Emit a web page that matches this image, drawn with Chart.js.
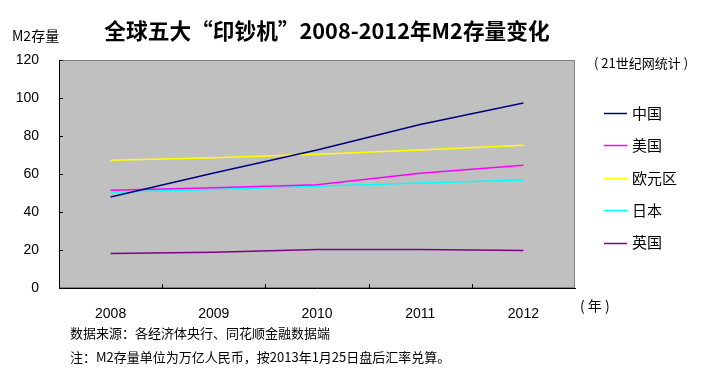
<!DOCTYPE html>
<html>
<head>
<meta charset="utf-8">
<script src="https://cdn.jsdelivr.net/npm/chart.js@4"></script>
<style>
  body { margin: 0; background: #fff; }
</style>
</head>
<body>
<canvas id="m2Chart" width="704" height="380"></canvas>
<script>
const years = ["2008", "2009", "2010", "2011", "2012"];
const china = [47.9, 60.5, 72.6, 86.0, 97.4];
const usa = [51.5, 52.8, 54.4, 60.4, 64.6];
const euro = [67.2, 68.5, 70.4, 72.6, 75.1];
const japan = [50.4, 51.8, 53.5, 55.3, 56.8];
const uk = [18.2, 18.8, 20.2, 20.2, 19.8];
const yTicks = [0, 20, 40, 60, 80, 100, 120];

const cjk = '"Noto Sans CJK SC", "Noto Sans", sans-serif';

// grey plot box, inner tick marks and all the loose texts
const decor = {
  id: "decor",
  beforeDraw(chart) {
    const { ctx, chartArea: a } = chart;
    ctx.save();
    ctx.fillStyle = "#c0c0c0";
    ctx.fillRect(a.left, a.top, a.right - a.left, a.bottom - a.top);
    ctx.strokeStyle = "#808080";
    ctx.lineWidth = 1;
    ctx.strokeRect(a.left + 0.5, a.top + 0.5, a.right - a.left - 1, a.bottom - a.top - 1);
    ctx.restore();
  },
  afterDraw(chart) {
    const { ctx, chartArea: a, scales } = chart;
    ctx.save();
    ctx.strokeStyle = "#000";
    ctx.lineWidth = 1;
    ctx.beginPath();
    yTicks.forEach((v) => {
      const y = Math.round(scales.y.getPixelForValue(v)) + 0.5;
      ctx.moveTo(a.left, y);
      ctx.lineTo(a.left + 4, y);
    });
    const step = scales.x.getPixelForValue(1) - scales.x.getPixelForValue(0);
    for (let i = 1; i < years.length; i++) {
      const x = Math.round(scales.x.getPixelForValue(0) - step / 2 + i * step) + 0.5;
      ctx.moveTo(x, a.bottom);
      ctx.lineTo(x, a.bottom - 4);
    }
    ctx.stroke();

    ctx.fillStyle = "#000";
    ctx.textBaseline = "middle";
    ctx.textAlign = "center";
    ctx.font = "bold 21.7px " + cjk;
    ctx.fillText("全球五大“印钞机”2008-2012年M2存量变化", 327, 31);

    ctx.textAlign = "left";
    ctx.font = "14px " + cjk;
    ctx.fillText("M2存量", 12, 36);
    ctx.font = "13px " + cjk;
    ctx.fillText("( 21世纪网统计 )", 594, 63);
    ctx.font = "14px " + cjk;
    ctx.fillText("( 年 )", 580, 306);
    ctx.font = "13px " + cjk;
    ctx.fillText("数据来源：各经济体央行、同花顺金融数据端", 70, 333);
    ctx.fillText("注：M2存量单位为万亿人民币，按2013年1月25日盘后汇率兑算。", 70, 357);

    ctx.font = "15px " + cjk;
    chart.data.datasets.forEach((ds, i) => {
      const y = 113 + i * 32.4;
      ctx.strokeStyle = ds.borderColor;
      ctx.lineWidth = 1.5;
      ctx.beginPath();
      ctx.moveTo(604, Math.round(y) + 0.5);
      ctx.lineTo(627, Math.round(y) + 0.5);
      ctx.stroke();
      ctx.fillStyle = "#000";
      ctx.fillText(ds.label, 632, y);
    });
    ctx.restore();
  },
};

function series(label, data, color) {
  return {
    label: label,
    data: data,
    borderColor: color,
    backgroundColor: color,
    borderWidth: 1.5,
    pointRadius: 0,
    tension: 0,
    fill: false,
  };
}

new Chart(document.getElementById("m2Chart").getContext("2d"), {
  type: "line",
  data: {
    labels: years,
    datasets: [
      series("中国", china, "#000080"),
      series("美国", usa, "#ff00ff"),
      series("欧元区", euro, "#ffff00"),
      series("日本", japan, "#00ffff"),
      series("英国", uk, "#800080"),
    ],
  },
  options: {
    responsive: false,
    animation: false,
    layout: { padding: { top: 60, right: 129, left: 0, bottom: 0 } },
    plugins: { legend: { display: false }, tooltip: { enabled: false } },
    scales: {
      x: {
        offset: true,
        grid: { display: false },
        border: { color: "#000", width: 1 },
        ticks: { color: "#000", padding: 10, font: { family: "Liberation Sans", size: 14 } },
        afterFit: (scale) => { scale.height = 92; },
      },
      y: {
        min: 0,
        max: 120,
        grid: { display: false },
        border: { color: "#000", width: 1 },
        ticks: {
          stepSize: 20,
          color: "#000",
          padding: 12,
          font: { family: "Liberation Sans", size: 14 },
        },
        afterFit: (scale) => { scale.width = 59; },
      },
    },
  },
  plugins: [decor],
});
</script>
</body>
</html>
